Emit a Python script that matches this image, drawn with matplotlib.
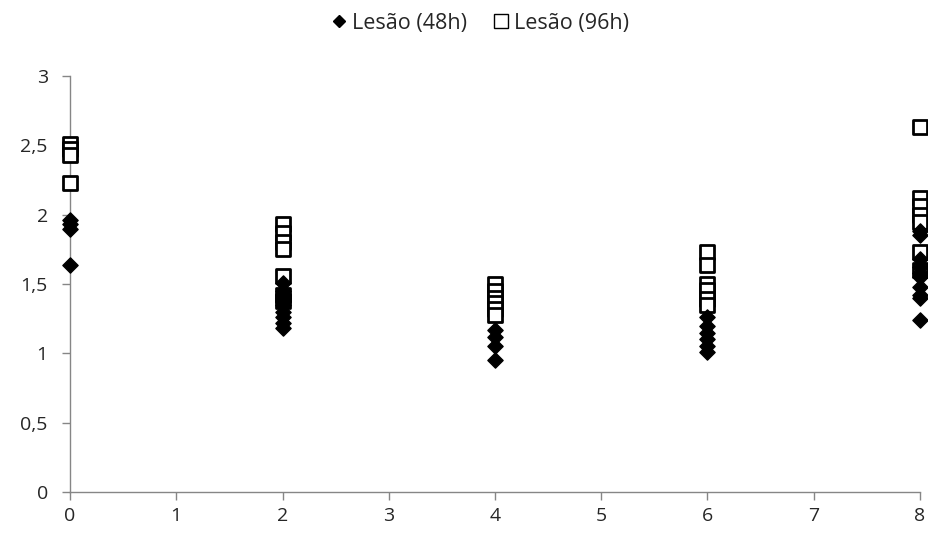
import matplotlib.pyplot as plt

plt.rcParams['font.family'] = ['Open Sans', 'DejaVu Sans']

# Lesion scores per time point
x_48h = [0, 0, 0, 0,
         2, 2, 2, 2, 2, 2, 2, 2, 2, 2,
         4, 4, 4, 4,
         6, 6, 6, 6, 6, 6,
         8, 8, 8, 8, 8, 8, 8, 8, 8, 8]
y_48h = [1.96, 1.93, 1.90, 1.64,
         1.51, 1.45, 1.42, 1.40, 1.38, 1.35, 1.30, 1.26, 1.22, 1.18,
         1.17, 1.12, 1.05, 0.95,
         1.26, 1.20, 1.15, 1.10, 1.05, 1.01,
         1.88, 1.85, 1.68, 1.62, 1.58, 1.55, 1.48, 1.42, 1.40, 1.24]

x_96h = [0, 0, 0, 0,
         2, 2, 2, 2, 2, 2, 2,
         4, 4, 4, 4, 4, 4,
         6, 6, 6, 6, 6, 6,
         8, 8, 8, 8, 8, 8, 8]
y_96h = [2.51, 2.47, 2.43, 2.23,
         1.93, 1.87, 1.80, 1.75, 1.56, 1.42, 1.38,
         1.50, 1.45, 1.40, 1.36, 1.32, 1.28,
         1.73, 1.64, 1.50, 1.46, 1.39, 1.35,
         2.63, 2.12, 2.06, 2.00, 1.95, 1.73, 1.60]

fig = plt.figure(figsize=(9.29, 5.40), dpi=100)
ax = fig.add_axes([70 / 929, 1 - 492 / 540, 850 / 929, 416 / 540])

ax.scatter(x_96h, y_96h, marker='s', s=90, facecolor='white',
           edgecolor='black', linewidth=2, zorder=3, clip_on=False,
           label='Lesão (96h)')
ax.scatter(x_48h, y_48h, marker='D', s=60, color='black',
           zorder=4, clip_on=False, label='Lesão (48h)')

ax.set_xlim(0, 8)
ax.set_ylim(0, 3)
ax.set_xticks(range(0, 9))
ax.set_yticks([0, 0.5, 1, 1.5, 2, 2.5, 3])
ax.set_yticklabels(['0', '0,5', '1', '1,5', '2', '2,5', '3'])

for side in ['top', 'right']:
    ax.spines[side].set_visible(False)
for side in ['left', 'bottom']:
    ax.spines[side].set_color('#868686')
    ax.spines[side].set_linewidth(1)
ax.tick_params(axis='both', colors='#868686', labelcolor='#262626',
               labelsize=14, length=6, width=1, direction='out')
ax.tick_params(axis='y', pad=10)
ax.tick_params(axis='x', pad=5)

# legend uses small glyph-sized markers
leg_48 = plt.Line2D([], [], marker='D', color='black', linestyle='none',
                    markersize=6.5)
leg_96 = plt.Line2D([], [], marker='s', markerfacecolor='white',
                    markeredgecolor='black', markeredgewidth=1,
                    linestyle='none', markersize=10)
fig.legend([leg_48, leg_96], ['Lesão (48h)', 'Lesão (96h)'],
           loc='upper center', bbox_to_anchor=(481 / 929, 1.012), ncol=2,
           frameon=False, fontsize=15.5, handlelength=0.6,
           handletextpad=0.3, columnspacing=1.3, labelcolor='#262626')

fig.savefig('out.png', dpi=100)
plt.close()
